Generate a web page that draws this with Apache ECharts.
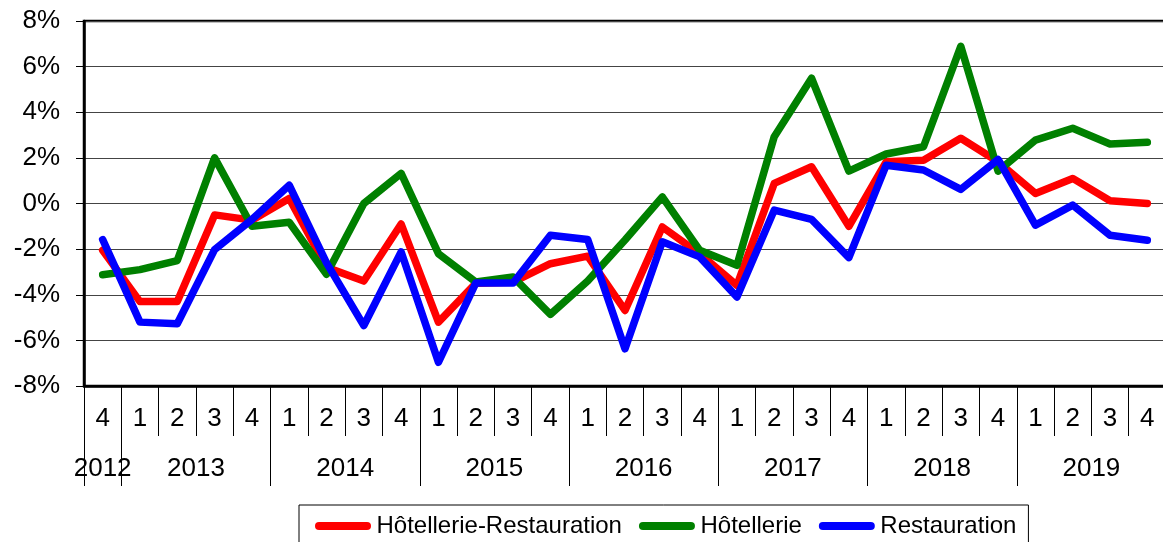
<!DOCTYPE html>
<html>
<head>
<meta charset="utf-8">
<script src="https://cdn.jsdelivr.net/npm/echarts@6/dist/echarts.min.js"></script>
<style>
html,body{margin:0;padding:0;background:#fff;}
#chart{width:1163px;height:542px;}
</style>
</head>
<body>
<div id="chart"></div>
<script>
// Quarter tick labels (2012 Q4 .. 2019 Q4)
var quarterLabels = ['4','1','2','3','4','1','2','3','4','1','2','3','4','1','2','3','4','1','2','3','4','1','2','3','4','1','2','3','4'];
// Year labels and the quarter index where each year starts / ends
var years      = ['2012','2013','2014','2015','2016','2017','2018','2019'];
var yearStart  = [0, 1, 5, 9, 13, 17, 21, 25];
var yearEnd    = [1, 5, 9, 13, 17, 21, 25, 29];

var seriesNames = ['Hôtellerie-Restauration', 'Hôtellerie', 'Restauration'];

var hotelRestauration = [-2.05,-4.3,-4.3,-0.5,-0.73,0.22,-2.8,-3.4,-0.9,-5.2,-3.5,-3.45,-2.64,-2.31,-4.69,-1.03,-2.2,-3.59,0.88,1.61,-1.0,1.83,1.9,2.86,1.83,0.44,1.1,0.12,0.0];
var hotellerie        = [-3.12,-2.9,-2.5,2.0,-1.0,-0.82,-3.1,0.0,1.32,-2.2,-3.44,-3.22,-4.86,-3.4,-1.6,0.29,-2.05,-2.71,2.93,5.49,1.42,2.17,2.49,6.89,1.42,2.78,3.3,2.61,2.68];
var restauration      = [-1.58,-5.2,-5.27,-2.02,-0.7,0.8,-2.6,-5.35,-2.12,-6.96,-3.49,-3.49,-1.39,-1.58,-6.37,-1.68,-2.34,-4.1,-0.29,-0.7,-2.37,1.68,1.47,0.62,1.93,-0.95,-0.07,-1.39,-1.61];

// Half-quarter positions for the year axis (0, 0.5, 1, ... 29 quarters)
var nQ = quarterLabels.length;
var yearAxisData = [];
var yearTickIdx = {};
for (var j = 0; j <= nQ * 2; j++) yearAxisData.push('');
for (var y = 0; y < years.length; y++) {
  yearAxisData[yearStart[y] + yearEnd[y]] = years[y];
  yearTickIdx[yearStart[y] * 2] = true;
  yearTickIdx[yearEnd[y] * 2] = true;
}

var FONT = "'Liberation Sans', Arial, Helvetica, sans-serif";
var chart = echarts.init(document.getElementById('chart'), null, {renderer: 'canvas'});
chart.setOption({
  animation: false,
  backgroundColor: '#fff',
  textStyle: {fontFamily: FONT, color: '#000'},
  grid: {
    left: 84, top: 21, right: -3, bottom: 156,
    outerBoundsMode: 'none',
    containLabel: false,
    show: true, borderColor: '#000', borderWidth: 2.5, backgroundColor: 'transparent'
  },
  legend: {
    left: 299, top: 505,
    orient: 'horizontal',
    padding: [9, 12, 12, 16],
    itemGap: 17,
    itemWidth: 57, itemHeight: 8,
    icon: 'path://M4,0 L52,0 A4,4 0 0 1 52,8 L4,8 A4,4 0 0 1 4,0 Z',
    borderColor: '#000', borderWidth: 1,
    textStyle: {fontFamily: FONT, fontSize: 24, color: '#000'},
    data: seriesNames
  },
  xAxis: [
    {
      type: 'category',
      position: 'bottom',
      data: quarterLabels,
      boundaryGap: true,
      axisLine: {show: true, onZero: false, lineStyle: {color: '#000', width: 2.5}},
      axisTick: {show: true, interval: 0, length: 50, lineStyle: {color: '#000', width: 1}},
      axisLabel: {interval: 0, margin: 20, fontSize: 26, fontFamily: FONT, color: '#000'},
      splitLine: {show: false}
    },
    {
      type: 'category',
      position: 'bottom',
      data: yearAxisData,
      boundaryGap: false,
      axisLine: {show: false, onZero: false},
      axisTick: {show: true, length: 100, lineStyle: {color: '#000', width: 1},
        interval: function (idx) { return !!yearTickIdx[idx]; }},
      axisLabel: {interval: 0, margin: 70, fontSize: 26, fontFamily: FONT, color: '#000'},
      splitLine: {show: false}
    }
  ],
  yAxis: {
    type: 'value',
    min: -8, max: 8, interval: 2,
    axisLine: {show: true, lineStyle: {color: '#000', width: 2.5}},
    axisTick: {show: true, length: 8, lineStyle: {color: '#000', width: 1}},
    axisLabel: {formatter: '{value}%', margin: 24, fontSize: 26, fontFamily: FONT, color: '#000'},
    splitLine: {show: true, lineStyle: {color: '#444', width: 1}}
  },
  series: [
    {name: seriesNames[0], type: 'line', data: hotelRestauration, symbol: 'none', color: '#ff0000',
      lineStyle: {width: 7.5, color: '#ff0000', cap: 'round', join: 'round'}},
    {name: seriesNames[1], type: 'line', data: hotellerie, symbol: 'none', color: '#008000',
      lineStyle: {width: 7.5, color: '#008000', cap: 'round', join: 'round'}},
    {name: seriesNames[2], type: 'line', data: restauration, symbol: 'none', color: '#0000ff',
      lineStyle: {width: 7.5, color: '#0000ff', cap: 'round', join: 'round'}}
  ]
});
</script>
</body>
</html>
